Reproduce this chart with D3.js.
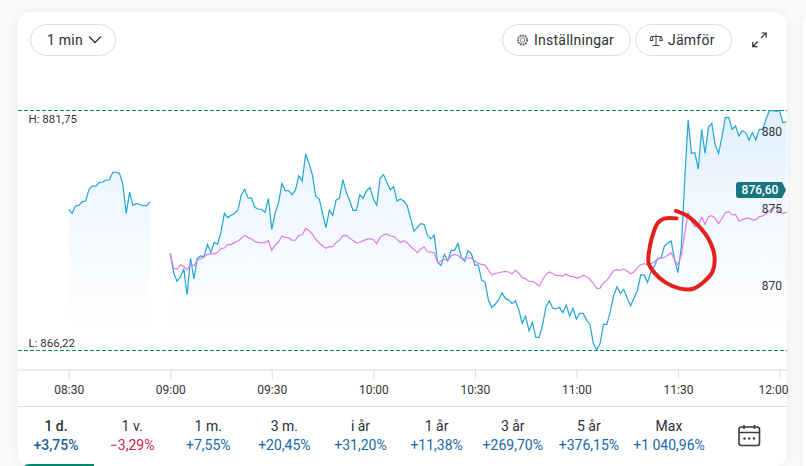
<!DOCTYPE html>
<html>
<head>
<meta charset="utf-8">
<script src="https://cdn.jsdelivr.net/npm/d3@7"></script>
<style>
  html, body { margin: 0; padding: 0; background: #fafafa; overflow: hidden; }
  svg { display: block; font-family: Roboto, sans-serif; }
  .axis .domain { stroke: #dcdcdc; }
  .axis line { stroke: #dcdcdc; }
  .axis text { font-family: Roboto, sans-serif; font-size: 12px; fill: #333; }
  .price-axis .domain, .price-axis line { display: none; }
</style>
</head>
<body>
<div id="chart"></div>
<script>
// --- Data ---
const morningStart = 510;   // 08:30, minutes after midnight
const dayStart = 540;       // 09:00
const highValue = 881.75;
const lowValue = 866.22;
const lastValue = 876.60;

const morningPrices = [875.35, 875.09, 875.57, 875.61, 875.85, 875.89, 876.65, 876.86, 876.86, 877.08,
  877.12, 877.25, 877.27, 877.73, 877.77, 877.68, 876.99, 875.09, 876.47, 875.61, 875.74, 875.65, 875.59, 875.59, 875.83];

const dayPrices = [872.51, 871.26, 870.70, 871.00, 871.49, 869.83, 872.18, 870.85, 872.18, 872.34,
  872.29, 873.09, 872.57, 873.22, 873.11, 873.91, 875.10, 874.82, 874.97, 875.10,
  875.31, 876.28, 876.65, 876.09, 876.09, 875.49, 875.36, 875.36, 875.16, 876.07,
  874.06, 875.10, 875.79, 877.04, 876.56, 876.56, 876.30, 876.61, 877.53, 877.19,
  878.94, 878.33, 877.58, 876.17, 876.05, 875.10, 874.17, 875.29, 874.97, 875.96,
  876.07, 877.28, 876.46, 875.92, 875.29, 875.29, 876.30, 876.07, 876.56, 876.78,
  876.02, 875.61, 877.36, 877.60, 877.10, 876.61, 876.82, 875.89, 876.02, 875.89,
  875.61, 874.77, 873.95, 874.19, 874.43, 874.38, 873.67, 873.46, 873.69, 871.92,
  871.73, 872.44, 872.01, 872.70, 872.70, 873.15, 872.25, 871.99, 872.68, 872.46,
  871.75, 871.75, 870.78, 870.65, 869.49, 868.99, 869.21, 869.49, 869.96, 869.59,
  869.49, 869.25, 869.44, 868.84, 867.98, 868.45, 867.48, 868.04, 867.07, 867.07,
  867.87, 869.06, 869.44, 868.95, 868.91, 869.01, 868.67, 869.16, 868.45, 868.95,
  868.24, 868.62, 868.62, 868.19, 867.91, 866.68, 866.27, 866.68, 867.91, 867.91,
  868.73, 869.77, 870.35, 869.92, 870.18, 869.60, 869.12, 869.60, 870.09, 871.11,
  871.11, 870.63, 871.28, 871.65, 872.18, 872.18, 872.98, 873.18, 873.31, 872.08,
  871.26, 872.94, 877.25, 881.14, 878.98, 879.02, 877.95, 880.53, 878.98, 880.66,
  880.92, 879.52, 878.98, 880.06, 881.31, 881.31, 880.53, 880.75, 880.10, 880.45,
  880.32, 879.84, 880.32, 879.84, 880.53, 880.53, 881.18, 881.74, 881.75, 881.70,
  881.75, 880.97, 881.01];

const comparePrices = [872.51, 871.54, 871.47, 871.77, 871.65, 871.43, 871.86, 871.69, 872.08, 872.16,
  872.29, 872.44, 872.47, 872.47, 872.57, 872.83, 872.85, 873.09, 873.07, 873.20,
  873.31, 873.48, 873.67, 873.54, 873.44, 873.28, 873.20, 873.20, 873.20, 873.33,
  872.70, 873.05, 873.24, 873.63, 873.54, 873.52, 873.35, 873.37, 873.67, 873.71,
  874.12, 873.99, 873.76, 873.41, 873.17, 873.00, 872.83, 872.94, 872.94, 873.21,
  873.35, 873.65, 873.67, 873.50, 873.33, 873.19, 873.21, 873.33, 873.41, 873.46,
  873.39, 873.13, 873.54, 873.71, 873.76, 873.63, 873.61, 873.41, 873.21, 873.33,
  873.19, 872.94, 872.76, 872.55, 872.79, 872.92, 872.61, 872.59, 872.55, 871.90,
  872.01, 872.12, 872.07, 872.33, 872.44, 872.37, 872.18, 872.16, 872.22, 872.20,
  872.01, 871.86, 871.79, 871.75, 871.42, 871.10, 871.21, 871.25, 871.30, 871.34,
  871.30, 871.19, 871.42, 871.21, 870.93, 870.87, 870.67, 870.70, 870.57, 870.39,
  870.78, 871.15, 871.30, 871.19, 871.08, 871.06, 871.04, 871.17, 871.02, 871.02,
  870.91, 870.95, 871.08, 871.00, 870.83, 870.57, 870.24, 870.26, 870.61, 870.74,
  871.06, 871.39, 871.45, 871.41, 871.49, 871.36, 871.19, 871.32, 871.58, 871.77,
  871.84, 871.77, 871.82, 871.95, 872.14, 872.18, 872.25, 872.38, 872.55, 872.08,
  871.75, 872.40, 873.80, 875.14, 874.56, 874.23, 874.34, 874.84, 874.39, 874.88,
  874.95, 874.77, 874.43, 874.77, 875.14, 875.21, 874.99, 875.03, 874.60, 874.67,
  874.77, 874.77, 874.67, 874.67, 874.88, 874.92, 875.05, 875.27, 875.42, 875.49,
  875.18, 875.10, 875.16];

// hand drawn red ring, in chart units (minutes after 09:00, price)
const ringMinutes = [149.6, 145.9, 144, 142.7, 141.7, 141.3, 143, 146.4, 150.4, 154.3, 157.7, 160.2, 160.8, 159.2, 156.3, 152.8, 149.4];
const ringPrices = [874.77, 874.75, 874.45, 873.80, 872.94, 871.90, 871.26, 870.61, 870.24, 870.20, 870.67, 871.32, 872.29, 873.37, 874.23, 874.92, 875.25];

const timeTicks = [510, 540, 570, 600, 630, 660, 690, 720];
const priceTicks = [870, 875, 880];

const periodLabels = ["1 d.", "1 v.", "1 m.", "3 m.", "i år", "1 år", "3 år", "5 år", "Max"];
const periodChanges = ["+3,75%", "−3,29%", "+7,55%", "+20,45%", "+31,20%", "+11,38%", "+269,70%", "+376,15%", "+1 040,96%"];

// --- Setup ---
const width = 806, height = 466;
const cardLeft = 18, cardRight = 787;

const svg = d3.select("#chart").append("svg")
  .attr("width", width)
  .attr("height", height);

const defs = svg.append("defs");
const grad = defs.append("linearGradient")
  .attr("id", "area-fill")
  .attr("gradientUnits", "userSpaceOnUse")
  .attr("x1", 0).attr("x2", 0).attr("y1", 110).attr("y2", 335);
grad.append("stop").attr("offset", 0).attr("stop-color", "#dfeffe");
grad.append("stop").attr("offset", 0.38).attr("stop-color", "#eff7ff");
grad.append("stop").attr("offset", 0.7).attr("stop-color", "#f8fbff");
grad.append("stop").attr("offset", 1).attr("stop-color", "#ffffff");

// neighbouring card edge and the main card
svg.append("rect").attr("x", 803).attr("y", 12).attr("width", 30).attr("height", 470).attr("rx", 12)
  .attr("fill", "#fff").style("filter", "drop-shadow(0 0 6px rgba(0,0,0,.05))");
svg.append("rect")
  .attr("x", cardLeft).attr("y", 12)
  .attr("width", cardRight - cardLeft).attr("height", 454)
  .attr("rx", 12)
  .attr("fill", "#fff")
  .style("filter", "drop-shadow(0 0 6px rgba(0,0,0,.06))");

// --- Scales ---
const x = d3.scaleLinear().domain([510, 720]).range([68.7, 779.5]);
const y = d3.scaleLinear().domain([lowValue, highValue]).range([350.5, 110.5]);

const morning = morningPrices.map((p, i) => ({ t: morningStart + i, p }));
const day = dayPrices.map((p, i) => ({ t: dayStart + i, p }));
const compare = comparePrices.map((p, i) => ({ t: dayStart + i, p }));

const line = d3.line().x(d => x(d.t)).y(d => y(d.p));
const area = d3.area().x(d => x(d.t)).y0(y(lowValue)).y1(d => y(d.p));

// --- Chart ---
[morning, day].forEach(seg => {
  svg.append("path").attr("d", area(seg)).attr("fill", "url(#area-fill)");
});

[highValue, lowValue].forEach(v => {
  svg.append("line")
    .attr("x1", cardLeft).attr("x2", cardRight)
    .attr("y1", y(v)).attr("y2", y(v))
    .attr("stroke", "#0a8f70")
    .attr("stroke-dasharray", "4 2");
});

[morning, day].forEach(seg => {
  svg.append("path").attr("d", line(seg))
    .attr("fill", "none").attr("stroke", "#22a6d5").attr("stroke-width", 1.2);
});
svg.append("path").attr("d", line(compare))
  .attr("fill", "none").attr("stroke", "#dc7de6").attr("stroke-width", 1.2);

svg.append("text").attr("x", 28.5).attr("y", 123).attr("font-size", 11.5).attr("fill", "#333")
  .text("H: " + String(highValue).replace(".", ","));
svg.append("text").attr("x", 28.5).attr("y", 347).attr("font-size", 11.5).attr("fill", "#333")
  .text("L: " + String(lowValue).replace(".", ","));

// Price axis, labels sit a little above their value
const priceAxis = svg.append("g")
  .attr("class", "axis price-axis")
  .attr("transform", `translate(782,0)`)
  .call(d3.axisLeft(y).tickValues(priceTicks).tickSize(0).tickPadding(0));
priceAxis.selectAll("text").attr("dy", "-0.18em");

// Time axis
const timeAxis = svg.append("g")
  .attr("class", "axis")
  .attr("transform", "translate(0,369.5)")
  .call(d3.axisBottom(x)
    .tickValues(timeTicks)
    .tickSize(9)
    .tickPadding(7)
    .tickFormat(m => d3.format("02")(Math.floor(m / 60)) + ":" + d3.format("02")(m % 60)));
timeAxis.select(".domain").attr("d", `M${cardLeft},0.5H${cardRight}`);
timeAxis.selectAll(".tick:last-of-type text").attr("dx", -6.5);

// Last price badge
const badge = svg.append("g").attr("transform", `translate(0,${y(lastValue)})`);
badge.append("path")
  .attr("d", "M739,-8H782L786,0L782,8H739Q736,8 736,5V-5Q736,-8 739,-8Z")
  .attr("fill", "#16757f");
badge.append("text")
  .attr("x", 760).attr("y", 4.3)
  .attr("text-anchor", "middle").attr("font-size", 12).attr("font-weight", 500)
  .attr("fill", "#fff")
  .text(String(lastValue.toFixed(2)).replace(".", ","));

// Red hand drawn ring
const ring = d3.line()
  .x(d => x(dayStart + d[0]))
  .y(d => y(d[1]))
  .curve(d3.curveCatmullRom);
svg.append("path")
  .attr("d", ring(ringMinutes.map((m, i) => [m, ringPrices[i]])))
  .attr("fill", "none").attr("stroke", "#e4201c").attr("stroke-width", 4).attr("stroke-linecap", "round");

// --- Top buttons ---
function pill(x0, x1) {
  svg.append("rect")
    .attr("x", x0 + 0.5).attr("y", 24.5)
    .attr("width", x1 - x0).attr("height", 31)
    .attr("rx", 15.5)
    .attr("fill", "#fff").attr("stroke", "#dedede");
}
function buttonText(label, x0) {
  svg.append("text").attr("x", x0).attr("y", 44.5)
    .attr("font-size", 14).attr("letter-spacing", 0.25).attr("fill", "#2b2f36").text(label);
}
pill(30, 115);
buttonText("1 min", 47);
svg.append("path").attr("d", "M89,36.5L95,42.5L101,36.5")
  .attr("fill", "none").attr("stroke", "#333").attr("stroke-width", 1.3);

pill(502, 630);
buttonText("Inställningar", 534);
svg.append("circle").attr("cx", 522.5).attr("cy", 40).attr("r", 4.6)
  .attr("fill", "none").attr("stroke", "#666").attr("stroke-width", 2).attr("stroke-dasharray", "1.8 0.8");
svg.append("circle").attr("cx", 522.5).attr("cy", 40).attr("r", 2.3)
  .attr("fill", "none").attr("stroke", "#666").attr("stroke-width", 0.8);

pill(635, 731);
buttonText("Jämför", 668);
svg.append("path")
  .attr("d", "M656,34.5V45.5M652.5,45.5H659.5M651,36.5H661M651,36.5L650,40.5H653L652,36.5M661,36.5L659.5,40.5H662.5L661.5,36.5")
  .attr("fill", "none").attr("stroke", "#444").attr("stroke-width", 1);

// expand icon
svg.append("path")
  .attr("d", "M761,38L766,33M761.5,33H766.2V37.7M752.8,46.5L757.8,41.5M752.8,42V46.7H757.5")
  .attr("fill", "none").attr("stroke", "#2b2f36").attr("stroke-width", 1.2);

// --- Period row ---
svg.append("line")
  .attr("x1", cardLeft).attr("x2", cardRight)
  .attr("y1", 406.5).attr("y2", 406.5)
  .attr("stroke", "#dcdcdc");

const px = d3.scalePoint().domain(periodLabels).range([56, 665]);

const periods = svg.append("g").selectAll("g")
  .data(periodLabels)
  .join("g")
  .attr("transform", (d, i) => `translate(${px(d) + (d === "Max" ? 4 : 0)},0)`);

periods.append("text")
  .attr("y", 431).attr("text-anchor", "middle").attr("font-size", 14)
  .attr("font-weight", (d, i) => i === 0 ? 500 : 400)
  .attr("fill", "#2b2f36")
  .text(d => d);

periods.append("text")
  .attr("y", 450).attr("text-anchor", "middle").attr("font-size", 14)
  .attr("font-weight", (d, i) => i === 0 ? 500 : 400)
  .attr("fill", (d, i) => i === 1 ? "#d3204f" : (i === 0 ? "#1c5f97" : "#1669a9"))
  .text((d, i) => periodChanges[i]);

// selected tab marker
svg.append("path").attr("d", "M24,466Q26,464 30,464H94V466Z").attr("fill", "#008a6b");

// calendar icon
svg.append("rect").attr("x", 739).attr("y", 427).attr("width", 20.5).attr("height", 18.5).attr("rx", 2.5)
  .attr("fill", "none").attr("stroke", "#3a3a3a").attr("stroke-width", 1.6);
svg.append("path").attr("d", "M739,432.5H759.5M744,425V429M754.5,425V429")
  .attr("fill", "none").attr("stroke", "#3a3a3a").attr("stroke-width", 1.6);
[744.5, 749.3, 754].forEach(cx => {
  svg.append("circle").attr("cx", cx).attr("cy", 438.5).attr("r", 1.2).attr("fill", "#3a3a3a");
});
</script>
</body>
</html>
